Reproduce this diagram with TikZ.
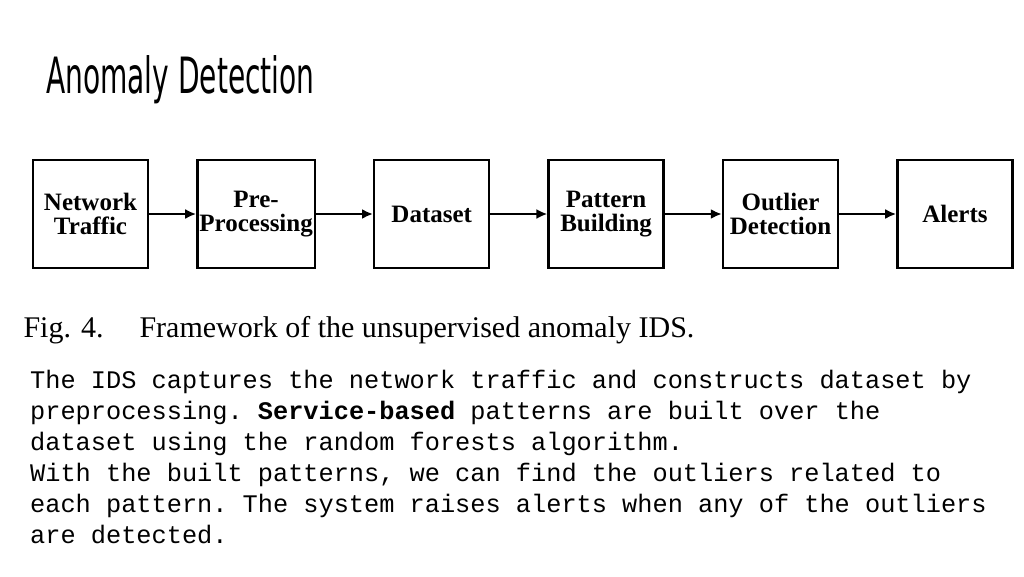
\documentclass[tikz,border=0pt]{standalone}
\usepackage{fontspec}
\setmainfont{Liberation Serif}
\setmonofont{Liberation Mono}
\newfontfamily\titlefont{DejaVu Sans Condensed}
\usetikzlibrary{positioning,arrows.meta}
\tikzset{
  stage/.style={draw, line width=2.4pt, minimum width=115pt, minimum height=108pt,
    align=center, font=\bfseries\fontsize{25}{24}\selectfont, inner sep=2pt},
  flow/.style={-{Latex[length=11pt,width=10pt]}, line width=2.6pt}
}
\begin{document}
\begin{tikzpicture}[x=1pt, y=-1pt, node distance=57pt]
  \useasboundingbox (0,0) rectangle (1024,576);
  % title
  \node[anchor=west, inner sep=0pt] (title) at (46,80)
    {\scalebox{0.78}[1.25]{\titlefont\fontsize{40}{40}\selectfont\scshape Anomaly Detection}};
  % framework
  \node[stage] (traffic) at (90.5,214) {Network\\Traffic};
  \node[stage, right=47pt of traffic] (prep) {Pre-\\Processing};
  \node[stage, right=of prep] (data) {Dataset};
  \node[stage, right=of data] (pattern) {Pattern\\Building};
  \node[stage, right=of pattern] (outlier) {Outlier\\Detection};
  \node[stage, right=of outlier] (alerts) {Alerts};
  \draw[flow] (traffic) -- (prep);
  \draw[flow] (prep) -- (data);
  \draw[flow] (data) -- (pattern);
  \draw[flow] (pattern) -- (outlier);
  \draw[flow] (outlier) -- (alerts);
  % caption
  \node[anchor=west, font=\fontsize{30}{30}\selectfont] (caption) at (20,330)
    {Fig. 4.\hspace{36pt}Framework of the unsupervised anomaly IDS.};
  % description
  \node[anchor=north west, align=left, inner sep=0pt,
        font=\ttfamily\fontsize{25.3}{31}\selectfont] (desc) at (30,370)
    {The IDS captures the network traffic and constructs dataset by\\
     preprocessing. \textbf{Service-based} patterns are built over the\\
     dataset using the random forests algorithm.\\
     With the built patterns, we can find the outliers related to\\
     each pattern. The system raises alerts when any of the outliers\\
     are detected.};
\end{tikzpicture}
\end{document}
